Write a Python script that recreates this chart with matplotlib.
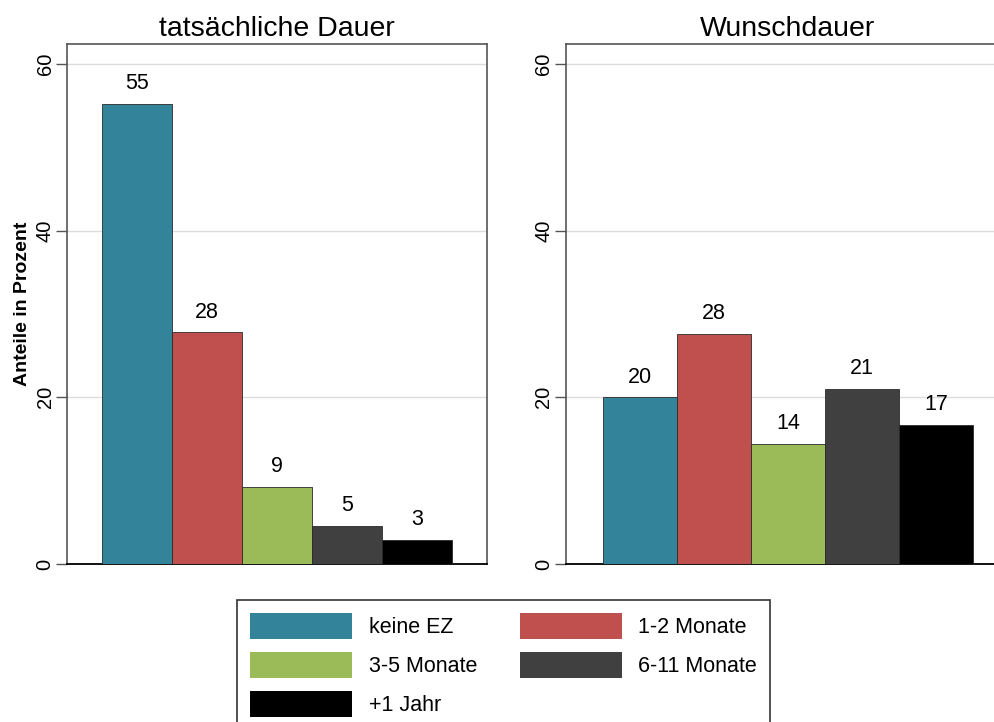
import matplotlib
matplotlib.use("Agg")
import matplotlib.pyplot as plt
from matplotlib.patches import Patch

plt.rcParams['font.family'] = ['Liberation Sans', 'DejaVu Sans']

categories = ["keine EZ", "1-2 Monate", "3-5 Monate", "6-11 Monate", "+1 Jahr"]
colors = ["#33839B", "#C0504D", "#9BBB59", "#404040", "#000000"]
panel_titles = ["tatsächliche Dauer", "Wunschdauer"]
actual = [55.2, 27.8, 9.3, 4.6, 2.9]
desired = [20.0, 27.6, 14.4, 21.0, 16.7]
yticks = [0, 20, 40, 60]
ylabel = "Anteile in Prozent"

W, H = 994, 722
fig = plt.figure(figsize=(W / 100, H / 100), dpi=100)

def frac(x0, y0, x1, y1):
    return [x0 / W, 1 - y1 / H, (x1 - x0) / W, (y1 - y0) / H]

ax_l = fig.add_axes(frac(67, 44, 487, 564))
ax_r = fig.add_axes(frac(566, 44, 1010, 564))

for ax, vals, title in [(ax_l, actual, panel_titles[0]), (ax_r, desired, panel_titles[1])]:
    x = list(range(len(vals)))
    bars = ax.bar(x, vals, width=1.0, color=colors, edgecolor="#2a2a2a", linewidth=0.6, zorder=3)
    ax.bar_label(bars, labels=[f"{v:.0f}" for v in vals], padding=7, fontsize=15.5)
    ax.set_xlim(-1, 5)
    ax.set_ylim(0, 62.4)
    ax.set_xticks([])
    ax.set_yticks(yticks)
    ax.set_yticklabels([str(t) for t in yticks], rotation=90, va="center", fontsize=14.5)
    ax.tick_params(axis="y", length=8, width=1, color="#555555", pad=1)
    ax.grid(axis="y", color="#dcdcdc", linewidth=1, zorder=0)
    ax.set_axisbelow(True)
    for side in ["left", "top", "right"]:
        ax.spines[side].set_color("#555555")
        ax.spines[side].set_linewidth(1.2)
    ax.spines["bottom"].set_color("#000000")
    ax.spines["bottom"].set_linewidth(1.3)
    ax.set_title(title, fontsize=20.5, pad=6)

ax_l.set_ylabel(ylabel, fontsize=14, fontweight="bold", labelpad=3)

handles = [Patch(facecolor=c, edgecolor="none") for c in colors]
order = [0, 2, 4, 1, 3]
leg = fig.legend([handles[i] for i in order], [categories[i] for i in order],
                 ncol=2, loc="upper left", bbox_to_anchor=(237 / W, 1 - 600 / H),
                 fontsize=15.5, frameon=True, fancybox=False, edgecolor="#000000",
                 handlelength=4.74, handleheight=1.45, handletextpad=0.75,
                 columnspacing=2.0, labelspacing=0.62, borderpad=0.62, borderaxespad=0)
leg.get_frame().set_linewidth(1.2)

fig.savefig("out.png", dpi=100)
